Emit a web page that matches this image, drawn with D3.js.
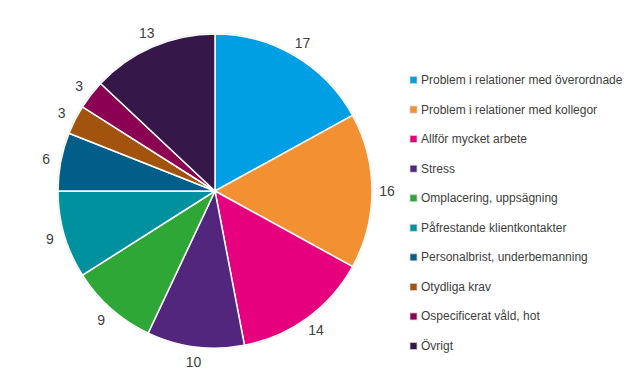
<!DOCTYPE html>
<html><head><meta charset="utf-8">
<script src="https://cdn.jsdelivr.net/npm/d3@7"></script>
<style>body{margin:0;background:#fff}svg{display:block}</style>
</head><body>
<svg id="c" width="626" height="381"></svg>
<script>
const categories = ["Problem i relationer med överordnade","Problem i relationer med kollegor","Allför mycket arbete","Stress","Omplacering, uppsägning","Påfrestande klientkontakter","Personalbrist, underbemanning","Otydliga krav","Ospecificerat våld, hot","Övrigt"];
const values = [17,16,14,10,9,9,6,3,3,13];
const colors = ["#009FE3","#F39132","#E6007E","#52267D","#2FA737","#00919F","#005E89","#A2530E","#8B0052","#35174A"];

const svg = d3.select("#c");
const cx = 215, cy = 191, R = 157, LR = 172;
const pie = d3.pie().sort(null).value(d => d)(values);
const arc = d3.arc().innerRadius(0).outerRadius(R);
const g = svg.append("g").attr("transform", `translate(${cx},${cy})`);
g.append("circle").attr("r", R + 1).attr("fill", "#d9d9d9");
g.selectAll("path").data(pie).join("path")
  .attr("d", arc).attr("fill", (d, i) => colors[i])
  .attr("stroke", "#fff").attr("stroke-width", 1.5);
const lab = d3.arc().innerRadius(LR).outerRadius(LR);
g.selectAll("text").data(pie).join("text")
  .attr("transform", d => `translate(${lab.centroid(d)})`)
  .attr("text-anchor", "middle").attr("dominant-baseline", "central")
  .attr("font-family", "Liberation Sans, Arial, sans-serif").attr("font-size", 14)
  .attr("fill", "#404040").text(d => d.data);

const ly = d3.scalePoint().domain(categories).range([80, 346]);
const lg = svg.append("g");
const items = lg.selectAll("g").data(categories).join("g")
  .attr("transform", d => `translate(410,${ly(d)})`);
items.append("rect").attr("x", 0).attr("y", -3.5).attr("width", 7).attr("height", 7)
  .attr("fill", (d, i) => colors[i]).attr("stroke", "#d0d0d0").attr("stroke-width", 0.8);
items.append("text").attr("x", 11).attr("y", 0).attr("dominant-baseline", "central")
  .attr("font-family", "Liberation Sans, Arial, sans-serif").attr("font-size", 12)
  .attr("fill", "#404040").text(d => d);
</script>
</body></html>
